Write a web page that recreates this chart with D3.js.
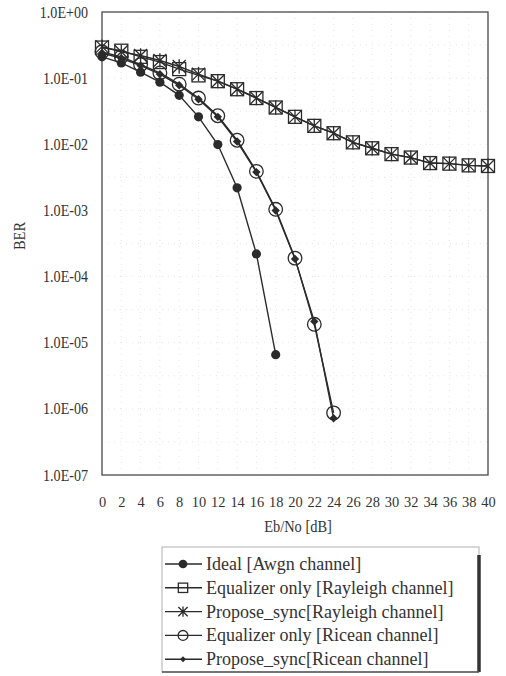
<!DOCTYPE html>
<html>
<head>
<meta charset="utf-8">
<script src="https://cdn.jsdelivr.net/npm/d3@7"></script>
<style>
  html, body { margin: 0; padding: 0; background: #fff; }
  svg { display: block; }
  text { font-family: "Liberation Serif", "Times New Roman", serif; fill: #333; }
</style>
</head>
<body>
<svg id="chart" width="506" height="676"></svg>
<script>
// Eb/No sample points [dB]
const snrFull = [0,2,4,6,8,10,12,14,16,18,20,22,24,26,28,30,32,34,36,38,40];
const snrAwgn = [0,2,4,6,8,10,12,14,16,18];
const snrRicean = [0,2,4,6,8,10,12,14,16,18,20,22,24];

// BER per configuration
const berIdealAwgn = [0.21,0.17,0.123,0.087,0.055,0.026,0.0099,0.0022,2.2e-4,6.6e-6];
const berEqRayleigh = [0.29,0.26,0.21,0.175,0.137,0.11,0.09,0.068,0.05,0.036,0.026,0.019,0.0147,0.0107,0.0087,0.0071,0.0063,0.0052,0.0051,0.0048,0.0047];
const berSyncRayleigh = [0.30,0.25,0.22,0.185,0.15,0.115,0.09,0.068,0.05,0.036,0.026,0.019,0.0147,0.0107,0.0087,0.0071,0.0063,0.0052,0.0051,0.0048,0.0047];
const berEqRicean = [0.25,0.21,0.16,0.12,0.081,0.05,0.027,0.0115,0.0039,0.00104,1.9e-4,1.9e-5,8.7e-7];
const berSyncRicean = [0.24,0.20,0.155,0.115,0.078,0.048,0.026,0.011,0.0038,0.001,1.85e-4,2.1e-5,7.2e-7];

const seriesNames = [
  "Ideal [Awgn channel]",
  "Equalizer only [Rayleigh channel]",
  "Propose_sync[Rayleigh channel]",
  "Equalizer only [Ricean channel]",
  "Propose_sync[Ricean channel]"
];
const markerKinds = ["dot", "square", "star", "ring", "diamond"];

const xTicks = snrFull;
const yTicks = [1,1e-1,1e-2,1e-3,1e-4,1e-5,1e-6,1e-7];

const series = [
  { name: seriesNames[0], kind: markerKinds[0], x: snrAwgn, y: berIdealAwgn },
  { name: seriesNames[1], kind: markerKinds[1], x: snrFull, y: berEqRayleigh },
  { name: seriesNames[2], kind: markerKinds[2], x: snrFull, y: berSyncRayleigh },
  { name: seriesNames[3], kind: markerKinds[3], x: snrRicean, y: berEqRicean },
  { name: seriesNames[4], kind: markerKinds[4], x: snrRicean, y: berSyncRicean }
];

const svg = d3.select("#chart");
const ink = "#2b2b2b";

const x = d3.scaleLinear().domain([0, 40]).range([102, 488]);
const y = d3.scaleLog().domain([1e-7, 1]).range([475, 12]);

// narrow the serif text a little, the way the typeset figure does
function squeeze(sel, k) {
  sel.each(function () {
    const w = this.getComputedTextLength();
    d3.select(this).attr("textLength", w * k).attr("lengthAdjust", "spacingAndGlyphs");
  });
}

// faint dotted grid
const grid = svg.append("g").attr("stroke", "#e6e6e6").attr("stroke-width", 1).attr("stroke-dasharray", "1,5");
grid.selectAll("line.v").data(xTicks.slice(1, -1)).join("line")
  .attr("x1", d => x(d)).attr("x2", d => x(d)).attr("y1", y(1)).attr("y2", y(1e-7));
const yMinor = [];
for (let e = -7; e < 0; e++) yMinor.push(Math.pow(10, e + 0.5));
grid.selectAll("line.h").data(yTicks.slice(1, -1).concat(yMinor)).join("line")
  .attr("x1", x(0)).attr("x2", x(40)).attr("y1", d => y(d)).attr("y2", d => y(d));

// plot frame
svg.append("rect")
  .attr("x", x(0)).attr("y", y(1))
  .attr("width", x(40) - x(0)).attr("height", y(1e-7) - y(1))
  .attr("fill", "none").attr("stroke", "#4a4a4a").attr("stroke-width", 1.3);

// y axis labels
const fmtE = d => {
  const e = Math.round(Math.log10(d));
  return "1.0E" + (e >= 0 ? "+" : "-") + String(Math.abs(e)).padStart(2, "0");
};
const yAxis = d3.axisLeft(y).tickValues(yTicks).tickFormat(fmtE).tickSize(0).tickPadding(14);
const gy = svg.append("g").attr("transform", `translate(${x(0)},0)`).call(yAxis);
gy.attr("font-family", null).attr("font-size", null);
gy.select(".domain").remove();
gy.selectAll("text").attr("font-size", 16).attr("fill", "#333").call(squeeze, 0.88);

// x axis labels
const xAxis = d3.axisBottom(x).tickValues(xTicks).tickFormat(d3.format("d")).tickSize(0).tickPadding(21);
const gx = svg.append("g").attr("transform", `translate(0,${y(1e-7)})`).call(xAxis);
gx.attr("font-family", null).attr("font-size", null);
gx.select(".domain").remove();
gx.selectAll("text").attr("font-size", 15.5).attr("fill", "#333").call(squeeze, 0.93);

svg.append("text").attr("x", 298).attr("y", 532).attr("text-anchor", "middle")
  .attr("font-size", 16).text("Eb/No [dB]").call(squeeze, 0.9);
svg.append("text").attr("transform", "translate(25,236) rotate(-90)").attr("text-anchor", "middle")
  .attr("font-size", 16).text("BER").call(squeeze, 0.9);

// marker drawing
function drawMarker(g, kind, cx, cy, scale) {
  const s = scale || 1;
  if (kind === "dot") {
    g.append("circle").attr("cx", cx).attr("cy", cy).attr("r", 4.6 * s).attr("fill", ink);
  } else if (kind === "square") {
    const h = 6.5 * s;
    g.append("rect").attr("x", cx - h).attr("y", cy - h).attr("width", 2 * h).attr("height", 2 * h)
      .attr("fill", "none").attr("stroke", ink).attr("stroke-width", 1.3);
  } else if (kind === "star") {
    const h = 6.5 * s;
    const p = d3.path();
    p.moveTo(cx - h, cy - h); p.lineTo(cx + h, cy + h);
    p.moveTo(cx - h, cy + h); p.lineTo(cx + h, cy - h);
    p.moveTo(cx, cy - h * 1.1); p.lineTo(cx, cy + h * 1.1);
    g.append("path").attr("d", p.toString()).attr("fill", "none").attr("stroke", ink).attr("stroke-width", 1.3);
  } else if (kind === "ring") {
    g.append("circle").attr("cx", cx).attr("cy", cy).attr("r", 6.8 * s)
      .attr("fill", "none").attr("stroke", ink).attr("stroke-width", 1.3);
  } else if (kind === "diamond") {
    const h = 4.2 * s;
    g.append("path").attr("d", `M${cx},${cy - h}L${cx + h},${cy}L${cx},${cy + h}L${cx - h},${cy}Z`).attr("fill", ink);
  }
}

const line = d3.line().x(d => x(d[0])).y(d => y(d[1]));
const plot = svg.append("g");
series.forEach(s => {
  const pts = s.x.map((v, i) => [v, s.y[i]]);
  plot.append("path").datum(pts).attr("d", line)
    .attr("fill", "none").attr("stroke", ink).attr("stroke-width", 1.4);
});
series.forEach(s => {
  const g = plot.append("g");
  s.x.forEach((v, i) => drawMarker(g, s.kind, x(v), y(s.y[i])));
});

// legend
const lg = svg.append("g");
const lx = 162, ly = 547, lw = 317, lh = 125;
lg.append("rect").attr("x", lx).attr("y", ly).attr("width", lw).attr("height", lh)
  .attr("fill", "#fff").attr("stroke", "#b0b0b0").attr("stroke-width", 1);
lg.append("line").attr("x1", lx + lw).attr("x2", lx + lw).attr("y1", ly + 8).attr("y2", ly + lh)
  .attr("stroke", "#333").attr("stroke-width", 3.5);
lg.append("line").attr("x1", lx).attr("x2", lx + lw).attr("y1", ly + lh).attr("y2", ly + lh)
  .attr("stroke", "#555").attr("stroke-width", 1.6);
series.forEach((s, i) => {
  const cy = 564 + i * 23.8;
  lg.append("line").attr("x1", 165).attr("x2", 202).attr("y1", cy).attr("y2", cy)
    .attr("stroke", ink).attr("stroke-width", 1.4);
  drawMarker(lg, s.kind, 183, cy, s.kind === "dot" ? 0.95 : 0.72);
  lg.append("text").attr("x", 206).attr("y", cy + 6).attr("font-size", 18).text(s.name);
});
</script>
</body>
</html>
